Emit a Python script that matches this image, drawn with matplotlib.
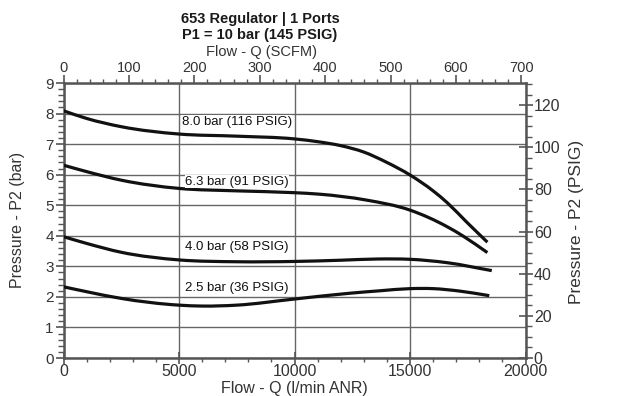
import numpy as np
import matplotlib
matplotlib.use("Agg")
import matplotlib.pyplot as plt
from matplotlib.path import Path
from matplotlib.patches import PathPatch
from matplotlib.ticker import MultipleLocator

plt.rcParams['font.family'] = ['Liberation Sans', 'DejaVu Sans']

# Regulator flow curves: flow (l/min ANR) vs outlet pressure (bar)
flow_80 = [0, 1000, 2500, 5000, 7500, 10000, 11000, 12000, 13000, 14000, 15000, 16000, 16600, 17450, 18350]
p2_80 = [8.09, 7.84, 7.57, 7.33, 7.26, 7.17, 7.08, 6.95, 6.74, 6.40, 5.99, 5.47, 5.09, 4.45, 3.79]

flow_63 = [0, 1000, 2500, 5000, 7500, 10000, 11100, 13100, 15000, 16600, 17300, 18350]
p2_63 = [6.31, 6.10, 5.82, 5.55, 5.47, 5.41, 5.36, 5.17, 4.84, 4.30, 3.99, 3.45]

flow_40 = [0, 1000, 2500, 5000, 7500, 10000, 12000, 13600, 15000, 16600, 18540]
p2_40 = [3.97, 3.75, 3.46, 3.21, 3.15, 3.16, 3.20, 3.24, 3.23, 3.12, 2.86]

flow_25 = [0, 1000, 2500, 5000, 6000, 7500, 10000, 12400, 13700, 15000, 16000, 17150, 18430]
p2_25 = [2.33, 2.17, 1.95, 1.73, 1.70, 1.73, 1.93, 2.12, 2.20, 2.27, 2.27, 2.19, 2.04]

curve_labels = ["8.0 bar (116 PSIG)", "6.3 bar (91 PSIG)", "4.0 bar (58 PSIG)", "2.5 bar (36 PSIG)"]
label_flow = [7500, 7500, 7500, 7500]
label_p2 = [7.73, 5.77, 3.64, 2.30]

title_lines = ["653 Regulator | 1 Ports", "P1 = 10 bar (145 PSIG)"]

LPM_PER_SCFM = 28.317
PSI_PER_BAR = 14.5038

TXT = '#333333'
AXC = '#555555'
W, H = 622, 396


def smooth_path(x, y):
    """Cubic Hermite path through the given points, as Bezier segments."""
    x = np.asarray(x, float)
    y = np.asarray(y, float)
    n = len(x)
    h = np.diff(x)
    d = np.diff(y) / h
    m = np.empty(n)
    m[0] = d[0]
    m[-1] = d[-1]
    for i in range(1, n - 1):
        m[i] = (d[i - 1] * h[i] + d[i] * h[i - 1]) / (h[i - 1] + h[i])
    verts = [(x[0], y[0])]
    codes = [Path.MOVETO]
    for i in range(n - 1):
        verts += [(x[i] + h[i] / 3, y[i] + m[i] * h[i] / 3),
                  (x[i + 1] - h[i] / 3, y[i + 1] - m[i + 1] * h[i] / 3),
                  (x[i + 1], y[i + 1])]
        codes += [Path.CURVE4] * 3
    return Path(verts, codes)


fig = plt.figure(figsize=(W / 100, H / 100), dpi=100)
ax = fig.add_axes([63.5 / W, 38 / H, 462 / W, 275 / H])

ax.set_xlim(0, 20000)
ax.set_ylim(0, 9)

ax.xaxis.set_major_locator(MultipleLocator(5000))
ax.xaxis.set_minor_locator(MultipleLocator(1000))
ax.yaxis.set_major_locator(MultipleLocator(1))
ax.yaxis.set_minor_locator(MultipleLocator(0.2))

ax.grid(True, which='major', color='#666666', linewidth=1.0)
ax.set_axisbelow(True)

for fx, py in [(flow_80, p2_80), (flow_63, p2_63), (flow_40, p2_40), (flow_25, p2_25)]:
    patch = PathPatch(smooth_path(fx, py), facecolor='none', edgecolor='#111111',
                      linewidth=2.3, capstyle='butt', transform=ax.transData, zorder=3)
    ax.add_patch(patch)

for txt, fx, py in zip(curve_labels, label_flow, label_p2):
    ax.text(fx, py, txt, ha='center', va='center', fontsize=9.5, color='#111111',
            bbox=dict(facecolor='white', edgecolor='none', pad=0.3), zorder=4)

for sp in ax.spines.values():
    sp.set_color(AXC)
    sp.set_linewidth(1.8)

ax.tick_params(axis='x', which='major', direction='inout', length=8, width=1.2,
               color=AXC, labelsize=11.5, labelcolor=TXT, pad=0.5)
ax.tick_params(axis='x', which='minor', direction='out', length=3, width=1.0, color=AXC)
ax.tick_params(axis='y', which='major', direction='out', length=6, width=1.2,
               color=AXC, labelsize=11, labelcolor=TXT, pad=1)
ax.tick_params(axis='y', which='minor', direction='out', length=4, width=1.0, color=AXC)

# Top axis in SCFM
top = ax.secondary_xaxis('top', functions=(lambda q: q / LPM_PER_SCFM,
                                           lambda s: s * LPM_PER_SCFM))
top.xaxis.set_major_locator(MultipleLocator(100))
top.xaxis.set_minor_locator(MultipleLocator(20))
top.spines['top'].set_visible(False)
top.tick_params(axis='x', which='major', direction='out', length=6, width=1.2,
                color=AXC, labelsize=10.5, labelcolor=TXT, pad=0)
top.tick_params(axis='x', which='minor', direction='out', length=3, width=1.0, color=AXC)

# Right axis in PSIG
right = ax.secondary_yaxis('right', functions=(lambda b: b * PSI_PER_BAR,
                                               lambda p: p / PSI_PER_BAR))
right.yaxis.set_major_locator(MultipleLocator(20))
right.yaxis.set_minor_locator(MultipleLocator(5))
right.spines['right'].set_visible(False)
right.tick_params(axis='y', which='major', direction='inout', length=10, width=1.2,
                  color=AXC, labelsize=11.5, labelcolor=TXT, pad=1)
right.tick_params(axis='y', which='minor', direction='out', length=4, width=1.0, color=AXC)

# Axis titles placed in figure pixels
fig.text(294 / W, 1 - 388 / H, "Flow - Q (l/min ANR)", ha='center', va='center',
         fontsize=11.5, color=TXT)
fig.text(261 / W, 1 - 52 / H, "Flow - Q (SCFM)", ha='center', va='center',
         fontsize=10.5, color=TXT)
fig.text(18 / W, 1 - 220 / H, "Pressure - P2 (bar)", ha='center', va='center',
         rotation=90, fontsize=11.5, color=TXT)
fig.text(576 / W, 1 - 222 / H, "Pressure - P2 (PSIG)", ha='center', va='center',
         rotation=90, fontsize=12.5, color=TXT)

fig.text(260 / W, 1 - 19 / H, title_lines[0], ha='center', va='center',
         fontsize=10.5, fontweight='bold', color='#1a1a1a')
fig.text(260 / W, 1 - 35 / H, title_lines[1], ha='center', va='center',
         fontsize=10.5, fontweight='bold', color='#1a1a1a')

fig.savefig("out.png", dpi=100, facecolor='white')
